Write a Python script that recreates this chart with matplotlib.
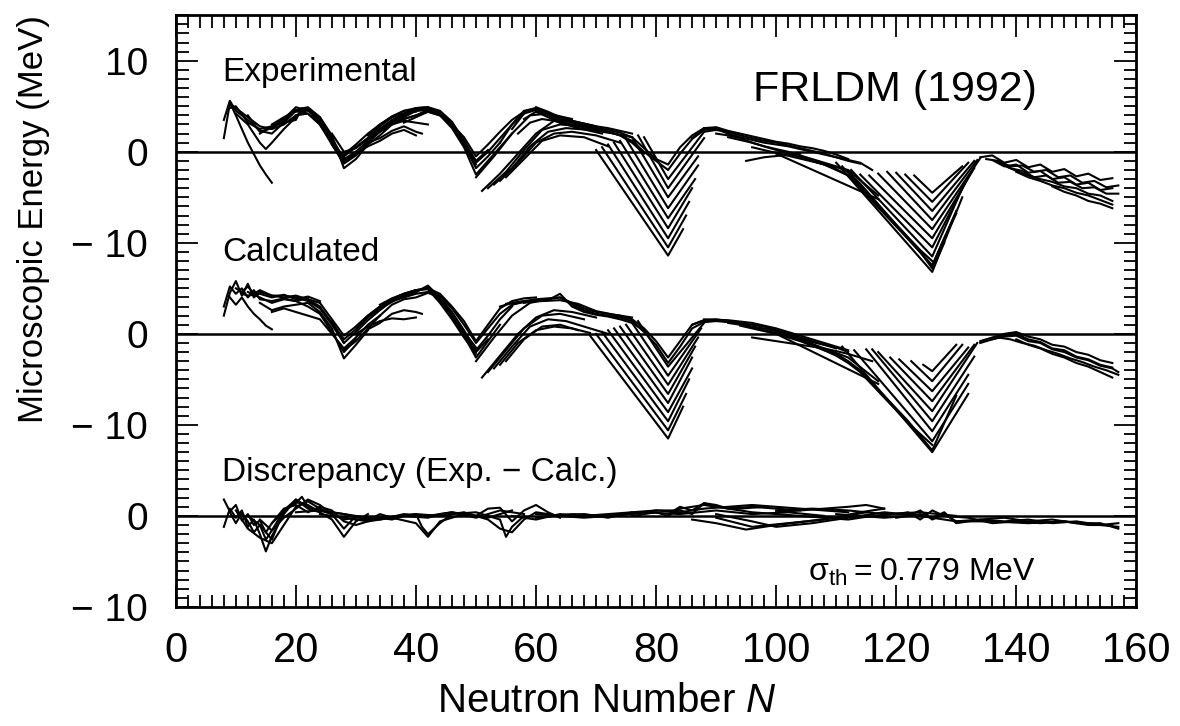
import numpy as np
import matplotlib
matplotlib.use("Agg")
import matplotlib.pyplot as plt
from matplotlib.ticker import MultipleLocator, FixedLocator

plt.rcParams['font.family'] = ['Liberation Sans', 'DejaVu Sans']
plt.rcParams['mathtext.fontset'] = 'custom'
plt.rcParams['mathtext.rm'] = 'Liberation Sans'
plt.rcParams['mathtext.it'] = 'Liberation Sans:italic'

# panel offsets (the three panels share one axis)
exp_off, calc_off, disc_off = 0, -20, -40

# ---------------- Experimental ----------------
exp_light_n = [[8, 9, 10, 12, 14, 16, 18, 20, 22],
               [8, 9, 10, 12, 14, 16, 18, 20, 22, 24],
               [9, 10, 12, 14, 15, 16],
               [9, 10, 12, 14, 16, 18, 20, 22],
               [10, 12, 14, 15, 16, 18, 20],
               [12, 14, 16, 18, 20, 22, 24, 26],
               [14, 16, 18, 20, 21, 22, 24, 26, 28],
               [16, 18, 20, 22, 24, 26, 28, 30]]
exp_light_e = [[1.5, 5.3, 4.8, 3.8, 2.8, 2.5, 3.0, 4.0, 4.6],
               [3.5, 5.6, 4.5, 3.5, 2.3, 2.0, 3.2, 4.5, 4.8, 3.5],
               [5.4, 4.0, 1.0, -1.5, -2.5, -3.4],
               [4.8, 5.0, 3.2, 2.5, 2.8, 3.6, 4.9, 4.5],
               [4.2, 3.0, 1.0, 0.3, 1.0, 2.5, 3.8],
               [4.0, 2.2, 2.6, 3.4, 4.6, 4.9, 3.8, 1.5],
               [2.0, 2.8, 3.2, 3.5, 4.8, 4.6, 3.2, 1.0, -0.6],
               [3.0, 3.8, 4.5, 4.2, 3.0, 1.2, -1.0, 0.0]]

exp_mid_n = [[20, 22, 24, 26, 28, 30, 32, 34, 36, 38, 40],
             [20, 22, 24, 26, 28, 30, 32, 34, 36, 38, 40, 42],
             [22, 24, 26, 28, 30, 32, 34, 36, 38, 40, 42, 44],
             [24, 26, 28, 30, 32, 34, 36, 38, 40, 42, 44, 46],
             [26, 28, 30, 32, 34, 36, 38, 40],
             [28, 30, 32, 34, 36, 38, 40, 42, 44, 46, 48, 50],
             [30, 32, 34, 36, 38, 40, 42, 44, 46, 48, 50, 52],
             [32, 34, 36, 38, 40, 42, 44, 46, 48, 50, 52, 54],
             [34, 36, 38, 40, 42, 44, 46, 48, 50, 52, 54, 56],
             [36, 38, 40, 42, 44, 46, 48, 50, 52, 54, 56, 58],
             [38, 40, 42, 44, 46, 48, 50, 52, 54, 56, 58, 60],
             [32, 34, 36, 38, 40, 41],
             [26, 28, 30, 32, 34, 36, 38, 40, 42]]
exp_mid_e = [[4.4, 4.6, 3.5, 1.5, -0.8, 0.0, 1.2, 2.5, 3.5, 4.2, 4.4],
             [4.0, 4.2, 3.0, 0.8, -1.3, -0.4, 1.0, 2.2, 3.2, 4.0, 4.6, 4.8],
             [4.8, 3.8, 1.8, -1.8, -0.8, 0.8, 1.8, 3.0, 3.8, 4.5, 4.7, 4.4],
             [3.0, 1.0, -0.5, 0.5, 1.5, 2.8, 3.8, 4.5, 4.8, 4.9, 4.2, 3.0],
             [0.8, -1.2, -0.2, 0.6, 1.2, 2.0, 2.4, 1.8],
             [-0.3, 0.8, 2.0, 3.0, 3.9, 4.5, 4.6, 4.7, 4.3, 2.8, 0.8, -1.4],
             [0.5, 1.5, 2.5, 3.4, 4.2, 4.8, 4.9, 4.5, 3.3, 1.2, -1.0, 0.2],
             [1.8, 3.0, 3.8, 4.2, 4.5, 4.6, 4.2, 3.0, 0.8, -1.8, -0.5, 1.0],
             [2.4, 3.2, 3.6, 4.0, 4.4, 4.0, 2.6, 0.5, -2.5, -1.0, 0.5, 2.0],
             [3.0, 3.6, 4.0, 4.6, 4.2, 3.2, 1.2, -1.2, 0.0, 1.5, 3.0, 4.2],
             [3.2, 3.8, 4.4, 4.0, 3.0, 1.6, -0.5, 0.8, 2.2, 3.5, 4.4, 4.8],
             [1.0, 1.5, 2.3, 2.8, 2.2, 2.0],
             [2.0, 0.0, 0.4, 1.4, 2.2, 3.0, 3.4, 3.2, 3.0]]

exp_rise_n = [[51, 54, 57, 60, 63, 66, 70],
              [52, 55, 58, 61, 64, 68, 72],
              [53, 56, 59, 62, 65, 69, 73, 76],
              [54, 57, 60, 63, 66, 70, 74],
              [55, 58, 61, 64, 68, 72],
              [50, 53, 56, 59, 62, 66]]
exp_rise_e = [[-4.3, -2.4, -0.2, 2.0, 3.4, 3.4, 2.8],
              [-4.0, -2.2, 0.2, 2.4, 3.0, 2.8, 2.4],
              [-3.6, -1.8, 0.6, 2.2, 2.6, 2.4, 2.0, 1.6],
              [-3.2, -1.2, 1.0, 2.0, 2.2, 1.8, 1.0],
              [-2.8, -0.8, 1.2, 1.8, 1.6, 0.6],
              [-2.8, -0.5, 2.0, 4.0, 4.2, 3.6]]

exp_band_n = [[54, 56, 58, 60, 62, 64, 66, 68, 70, 72, 74, 76, 78, 80, 82, 84, 86, 88, 90],
              [56, 58, 60, 62, 64, 66, 68, 70, 72, 74, 76, 78, 80, 82, 84, 86, 88, 90, 92],
              [58, 60, 62, 64, 66, 68, 70, 72, 74, 76, 78],
              [57, 59, 61, 63, 65, 67, 69, 71],
              [60, 62, 64, 66, 68, 70, 72, 74, 76]]
exp_band_e = [[1.0, 3.0, 4.5, 4.8, 4.2, 3.6, 3.2, 2.9, 2.6, 2.4, 2.1, 1.6, 0.4, -0.8, -1.4, 0.5, 1.8, 2.6, 2.4],
              [2.5, 4.2, 4.6, 4.0, 3.4, 3.0, 2.8, 2.5, 2.2, 1.8, 1.2, 0.0, -1.0, -2.0, -0.2, 1.4, 2.4, 2.6, 2.2],
              [3.6, 4.4, 3.8, 3.2, 2.9, 2.6, 2.4, 2.2, 1.8, 1.0, -0.2],
              [2.0, 3.2, 3.6, 3.4, 3.0, 2.6, 2.3, 2.0],
              [4.9, 4.4, 3.8, 3.4, 3.1, 2.8, 2.6, 2.3, 2.0]]

# N = 82 fan: start point, minimum at N = 82, end point
exp_f82_n0 = [78, 77, 76, 75, 74, 73, 72, 71, 70]
exp_f82_e0 = [1.6, 1.8, 1.6, 1.4, 1.2, 1.0, 0.8, 0.5, 0.2]
exp_f82_min = [-3.0, -4.0, -5.0, -6.2, -7.3, -8.4, -9.5, -10.5, -11.4]
exp_f82_n1 = [88, 88, 87, 87, 86.5, 86, 85.5, 85, 84.5]
exp_f82_e1 = [2.2, 1.5, -0.5, -1.5, -3.0, -4.0, -5.5, -7.0, -8.5]

exp_heavy_n = [[86, 88, 90, 92, 94, 96, 98, 100, 102, 104, 106, 108, 110, 112, 114, 116],
               [88, 90, 92, 94, 96, 98, 100, 102, 104, 106, 108, 110, 112, 114],
               [90, 92, 94, 96, 98, 100, 102, 104, 106, 108, 110, 112, 114, 116, 118, 120, 122, 124, 126, 128, 130],
               [92, 94, 96, 98, 100, 102, 104, 106, 108, 110, 112, 114, 116, 118, 120, 122, 124, 126],
               [88, 90, 92, 94, 96, 98, 100, 102, 104, 106, 108, 110, 112],
               [104, 108, 112, 116, 120, 124, 126, 128],
               [95, 98, 101, 104],
               [100, 117],
               [96, 112, 117]]
exp_heavy_e = [[1.5, 2.6, 2.5, 2.0, 1.6, 1.3, 1.0, 0.8, 0.6, 0.3, 0.0, -0.3, -0.6, -0.9, -1.2, -2.0],
               [2.2, 2.4, 2.2, 1.8, 1.5, 1.2, 1.0, 0.7, 0.4, 0.1, -0.2, -0.6, -1.0, -1.3],
               [2.0, 1.8, 1.5, 1.0, 0.6, 0.3, 0.0, -0.4, -0.8, -1.2, -1.6, -2.2, -3.5, -5.0, -6.5, -8.0, -9.5, -11.0, -12.5, -9.5, -6.8],
               [1.6, 1.3, 1.0, 0.6, 0.2, -0.2, -0.6, -1.0, -1.4, -1.9, -2.6, -3.8, -5.2, -6.6, -8.0, -9.4, -10.8, -12.0],
               [2.6, 2.7, 2.3, 2.0, 1.7, 1.4, 1.1, 0.9, 0.6, 0.4, 0.1, -0.3, -0.8],
               [-0.6, -1.4, -2.6, -5.4, -8.2, -11.0, -12.8, -10.0],
               [-1.0, -0.6, -0.4, -0.2],
               [-0.2, -5.2],
               [0.5, -2.0, -4.8]]

# N = 126 fan
exp_f126_n0 = [123, 121.5, 120, 118.5, 117, 115.5, 114, 112.5, 111, 110]
exp_f126_e0 = [-2.6, -2.5, -2.3, -2.2, -2.4, -2.6, -2.5, -2.0, -1.6, -1.2]
exp_f126_min = [-4.5, -5.5, -6.5, -7.5, -8.5, -9.5, -10.5, -11.5, -12.5, -13.2]
exp_f126_n1 = [131, 132, 133, 133.5, 134, 133, 132, 131, 130, 131]
exp_f126_e1 = [-1.6, -1.2, -1.0, -0.9, -0.7, -1.8, -2.8, -4.0, -6.5, -5.0]

exp_tail_n = [[134, 136, 138, 140, 142, 144, 146, 148, 150, 152, 154, 156],
              [135, 137, 139, 141, 143, 145, 147, 149, 151, 153, 155, 157],
              [136, 138, 140, 142, 144, 146, 148, 150, 152, 154, 156],
              [137, 139, 141, 143, 145, 147, 149, 151, 153, 155, 157],
              [138, 140, 142, 144, 146, 148, 150, 152, 154, 156],
              [140, 142, 144, 146, 148, 150, 152, 154, 156],
              [146, 148, 150, 152, 154, 156]]
exp_tail_e = [[-0.6, -0.4, -1.2, -0.9, -1.7, -1.4, -2.2, -1.9, -2.7, -2.4, -3.1, -2.9],
              [-0.8, -1.0, -1.6, -1.5, -2.2, -2.0, -2.8, -2.6, -3.4, -3.2, -3.9, -3.7],
              [-0.9, -1.6, -1.4, -2.3, -2.1, -3.0, -2.8, -3.6, -3.4, -4.2, -4.0],
              [-1.2, -1.8, -2.1, -2.8, -2.6, -3.4, -3.3, -4.0, -3.9, -4.6, -4.6],
              [-1.5, -2.1, -2.6, -3.0, -3.3, -3.8, -4.0, -4.6, -4.8, -5.4],
              [-2.2, -2.8, -3.2, -3.7, -4.0, -4.5, -4.8, -5.3, -5.8],
              [-3.8, -4.4, -4.8, -5.4, -5.7, -6.2]]

# ---------------- Calculated ----------------
calc_light_n = [[8, 9, 10, 11, 12, 13, 14, 16, 18, 20, 22, 24],
                [8, 9, 10, 11, 12, 13, 14, 16, 18, 20, 22],
                [9, 10, 11, 12, 13, 14, 15, 16],
                [10, 11, 12, 13, 14, 16, 18, 20, 22, 24, 26, 28],
                [12, 14, 16, 18, 20, 22, 24, 26, 28, 30],
                [14, 16, 18, 20, 22, 24, 26, 28, 30, 32],
                [16, 18, 20, 22, 24, 26, 28, 30, 32, 34],
                [11, 12, 14, 16, 18, 20, 22, 24]]
calc_light_e = [[2.0, 4.5, 5.8, 4.2, 5.5, 4.0, 4.6, 4.2, 4.0, 4.2, 3.8, 3.4],
                [3.0, 5.2, 4.4, 5.0, 4.0, 4.8, 3.8, 3.6, 3.9, 3.6, 3.9],
                [4.0, 3.2, 4.0, 3.0, 2.2, 1.6, 0.9, 0.5],
                [5.0, 4.6, 5.2, 4.4, 4.8, 4.2, 4.2, 4.0, 3.6, 2.8, 1.0, -1.0],
                [4.6, 4.0, 3.4, 3.8, 3.6, 3.0, 2.2, 0.2, -2.0, -0.6],
                [3.4, 2.6, 3.0, 3.2, 3.4, 2.4, 0.6, -2.7, -1.2, 0.4],
                [2.4, 2.8, 2.4, 2.0, 1.6, 0.0, -1.6, -0.4, 1.0, 2.0],
                [4.4, 4.2, 4.4, 4.0, 4.3, 3.8, 4.1, 3.6]]

calc_mid_n = [[22, 24, 26, 28, 30, 32, 34, 36, 38, 40, 42, 44, 46, 48, 50],
              [24, 26, 28, 30, 32, 34, 36, 38, 40, 42, 44, 46, 48, 50, 52],
              [26, 28, 30, 32, 34, 36, 38, 40, 42, 44, 46, 48, 50, 52, 54],
              [28, 30, 32, 34, 36, 38, 40, 42, 44, 46, 48, 50, 52, 54, 56],
              [30, 32, 34, 36, 38, 40],
              [32, 34, 36, 38, 40, 41],
              [30, 32, 34, 36, 38, 40, 42, 44, 46, 48, 50, 52, 54, 56, 58],
              [36, 38, 40, 42, 44, 46, 48, 50, 52, 54, 56, 58, 60],
              [34, 36, 38, 40, 42, 44, 46, 48, 50]]
calc_mid_e = [[3.8, 3.0, 1.2, -0.6, 0.5, 1.8, 2.8, 3.5, 4.2, 4.6, 5.2, 3.8, 2.0, 0.2, -1.5],
              [3.4, 1.6, -0.2, 0.8, 2.0, 3.0, 3.8, 4.4, 4.8, 5.0, 3.6, 1.8, 0.0, -2.0, -0.6],
              [1.4, -1.0, 0.2, 1.5, 2.6, 3.6, 4.2, 4.6, 5.3, 4.0, 2.0, -0.2, -2.6, -0.8, 1.0],
              [-1.8, -0.8, 0.6, 2.0, 3.2, 3.8, 4.0, 4.5, 4.0, 2.4, 0.4, -1.8, -0.2, 1.6, 3.0],
              [0.0, 0.8, 1.4, 1.7, 1.6, 1.8],
              [0.5, 1.2, 2.2, 2.6, 2.4, 2.2],
              [0.8, 2.0, 3.0, 3.6, 4.0, 4.4, 4.6, 4.2, 2.8, 1.0, -1.0, 0.6, 2.2, 3.2, 3.6],
              [3.8, 4.4, 4.8, 5.0, 4.4, 3.0, 1.4, -0.8, 1.0, 2.8, 3.6, 3.9, 4.0],
              [3.2, 3.9, 4.4, 4.8, 4.9, 3.4, 1.6, -0.4, -2.2]]

calc_rise_n = [[51, 54, 57, 60, 63, 66, 70],
               [52, 55, 58, 61, 64, 68],
               [53, 56, 59, 62, 65, 68, 72],
               [54, 57, 60, 63, 66, 69],
               [55, 58, 61, 64, 67],
               [50, 53, 56, 59, 62]]
calc_rise_e = [[-4.8, -2.4, 0.0, 1.8, 2.6, 2.4, 1.8],
               [-4.2, -1.8, 0.6, 2.0, 2.2, 1.6],
               [-3.8, -1.4, 0.8, 1.6, 1.4, 0.8, 0.0],
               [-3.4, -1.0, 0.4, 0.8, 0.6, 0.1],
               [-3.0, -0.6, 0.8, 1.0, 0.4],
               [-3.0, -0.4, 2.0, 3.4, 3.8]]

calc_band_n = [[54, 56, 58, 60, 62, 64, 66, 68, 70, 72, 74, 76, 78, 80, 82, 84, 86, 88, 90],
               [56, 58, 60, 62, 64, 66, 68, 70, 72, 74, 76, 78, 80, 82, 84, 86, 88, 90, 92],
               [58, 60, 62, 64, 66, 68, 70, 72, 74, 76, 78],
               [55, 58, 61, 64, 67, 70, 73, 76]]
calc_band_e = [[3.0, 3.4, 3.6, 3.8, 3.9, 4.0, 3.4, 2.8, 2.4, 2.2, 2.0, 1.6, 0.6, -0.8, -2.6, -0.8, 1.0, 1.5, 1.5],
               [3.2, 3.5, 3.7, 3.8, 4.0, 3.2, 2.6, 2.2, 2.0, 1.8, 1.4, 0.2, -1.2, -3.2, -1.4, 0.6, 1.3, 1.5, 1.3],
               [3.4, 3.6, 3.7, 4.4, 3.0, 2.4, 2.1, 1.9, 1.6, 1.2, 0.4],
               [3.3, 3.5, 3.6, 3.7, 3.3, 2.5, 2.1, 1.8]]

calc_f82_n0 = [77, 76, 75, 74, 73, 72, 71, 70, 69]
calc_f82_e0 = [1.4, 1.2, 1.0, 0.8, 0.6, 0.4, 0.2, 0.0, -0.2]
calc_f82_min = [-3.6, -4.6, -5.6, -6.6, -7.6, -8.6, -9.6, -10.6, -11.5]
calc_f82_n1 = [88, 87.5, 87, 86.5, 86, 86, 85.5, 85, 84.5]
calc_f82_e1 = [1.2, 0.6, -0.4, -1.4, -2.6, -3.8, -5.0, -6.6, -8.0]

calc_heavy_n = [[86, 88, 90, 92, 94, 96, 98, 100, 102, 104, 106, 108, 110, 112],
                [88, 90, 92, 94, 96, 98, 100, 102, 104, 106, 108, 110],
                [92, 94, 96, 98, 100, 102, 104, 106, 108, 110, 112, 114, 116, 118, 120, 122, 124, 126, 128, 130],
                [94, 96, 98, 100, 102, 104, 106, 108, 110, 112, 114, 116, 118, 120, 122, 124, 126],
                [88, 92, 96, 100, 104, 108, 112],
                [96, 100, 104, 108, 112, 116],
                [100, 117],
                [100, 112, 117]]
calc_heavy_e = [[1.0, 1.5, 1.6, 1.4, 1.2, 1.0, 0.8, 0.4, 0.0, -0.4, -0.8, -1.2, -1.5, -2.0],
                [1.3, 1.4, 1.3, 1.1, 0.8, 0.6, 0.3, -0.1, -0.5, -0.9, -1.2, -1.6],
                [1.2, 1.0, 0.7, 0.4, 0.1, -0.3, -0.7, -1.2, -1.8, -2.2, -3.0, -4.0, -5.4, -6.8, -8.2, -9.6, -11.2, -12.8, -9.8, -6.8],
                [0.9, 0.6, 0.3, 0.0, -0.4, -0.8, -1.3, -1.8, -2.4, -3.2, -4.2, -5.6, -7.0, -8.4, -9.8, -11.0, -12.2],
                [1.6, 1.5, 1.2, 0.6, -0.2, -1.0, -1.8],
                [-0.4, -0.8, -1.2, -1.6, -2.2, -3.0],
                [0.0, -5.5],
                [0.4, -2.6, -5.2]]

calc_f126_n0 = [124.5, 122.5, 120.5, 119, 117, 116, 115, 113, 111]
calc_f126_e0 = [-3.4, -3.0, -2.8, -2.6, -2.0, -1.7, -1.7, -1.8, -1.4]
calc_f126_min = [-4.1, -5.2, -6.3, -7.4, -8.5, -9.6, -10.7, -11.8, -13.0]
calc_f126_n1 = [130, 131, 132, 133, 133.5, 133, 132, 132, 132]
calc_f126_e1 = [-1.2, -1.2, -1.5, -1.2, -1.0, -2.5, -4.5, -5.5, -6.6]

calc_tail_n = [[134, 136, 138, 140, 142, 144, 146, 148, 150, 152, 154, 156],
               [134, 136, 138, 140, 142, 144, 146, 148, 150, 152, 154, 156],
               [136, 138, 140, 142, 144, 146, 148, 150, 152, 154, 156, 157],
               [137, 139, 141, 143, 145, 147, 149, 151, 153, 155, 157],
               [140, 142, 144, 146, 148, 150, 152, 154, 156]]
calc_tail_e = [[-0.8, -0.4, 0.0, 0.2, -0.3, -0.6, -1.2, -1.4, -2.0, -2.3, -2.9, -3.2],
               [-1.0, -0.6, -0.2, 0.0, -0.6, -0.9, -1.6, -1.8, -2.5, -2.8, -3.4, -3.7],
               [-0.6, -0.3, -0.2, -0.8, -1.0, -1.7, -2.0, -2.6, -2.9, -3.5, -3.8, -4.2],
               [-0.4, -0.6, -1.0, -1.3, -1.8, -2.2, -2.7, -3.1, -3.6, -4.0, -4.5],
               [-0.6, -1.2, -1.6, -2.2, -2.6, -3.2, -3.6, -4.2, -4.8]]

# ---------------- Discrepancy ----------------
disc_n = [[8, 9, 10, 11, 12, 13, 14, 15, 16, 18, 20, 22, 24],
          [8, 9, 10, 11, 12, 13, 14, 15, 16, 17, 18, 20, 22],
          [9, 10, 11, 12, 13, 14, 15, 16, 18, 20, 21, 22, 24, 26],
          [10, 12, 14, 16, 18, 20, 22, 24, 26, 28, 30],
          [12, 14, 16, 18, 20, 22, 24, 26, 28, 30, 32],
          [14, 16, 18, 20, 22, 24, 26, 28, 30, 32, 34, 36],
          [16, 18, 20, 22, 24, 26, 28, 30, 32, 34, 36, 38, 40],
          [20, 24, 28, 32, 36, 40, 42, 44, 48, 52, 56],
          [24, 28, 32, 36, 40, 41, 42, 44, 46, 50, 54, 55, 56, 58],
          [30, 34, 38, 42, 44, 46, 50, 52, 54, 56, 58, 60, 62, 64],
          [40, 44, 48, 52, 54, 56, 58, 60, 64, 68, 72, 76],
          [56, 60, 64, 68, 72, 76, 80, 84, 86, 88, 90, 94, 98],
          [60, 64, 68, 72, 76, 80, 84, 88, 92, 96, 100, 104, 108, 112],
          [76, 80, 82, 84, 88, 92, 96, 100, 104, 108, 112, 116],
          [86, 90, 95, 100, 105, 110, 115],
          [90, 96, 102, 108, 114, 118],
          [100, 104, 108, 112, 115, 118],
          [110, 114, 118, 122, 124, 126, 128, 130, 134, 138, 142, 146, 150, 154, 157],
          [116, 120, 122, 124, 126, 128, 132, 136, 140, 144, 148, 152, 156],
          [120, 124, 126, 128, 130, 134, 138, 142, 146, 150, 154, 157],
          [100, 106, 112, 118, 124, 130],
          [82, 84, 86, 88, 90, 92, 96, 100, 104],
          [60, 66, 72, 78, 84, 90, 96, 102, 108],
          [90, 96, 100, 106, 112, 118, 124],
          [124, 130, 136, 142, 148, 154, 157],
          [26, 30, 34, 38, 42, 46, 50, 54, 58]]
disc_e = [[1.8, 0.5, 1.2, -0.5, 0.2, -1.0, -0.5, -1.8, -0.8, 0.5, 1.5, 1.2, 0.4],
          [-1.2, 0.8, -0.2, 0.6, -1.2, -0.4, -2.0, -3.9, -2.2, -1.0, 0.2, 1.8, 1.0],
          [0.4, -0.8, 0.3, -0.6, -1.8, -1.0, -2.6, -1.6, 0.6, 1.4, 2.1, 1.0, 0.6, 0.2],
          [0.6, -1.4, -2.4, -3.0, -1.0, 1.0, 1.6, 0.8, 0.2, -0.4, -0.2],
          [0.0, -1.0, -2.6, 0.6, 1.8, 0.8, 0.4, -0.4, -2.3, -0.6, 0.2],
          [-0.4, -1.6, -0.2, 0.8, 1.8, 1.2, 0.2, -1.4, 0.0, -0.5, 0.2, -0.2],
          [-0.8, 0.8, 1.2, 0.4, 1.0, 0.6, -0.6, -1.0, -0.6, -0.2, -0.4, 0.0, 0.2],
          [0.4, 0.6, 0.2, -0.4, -0.2, -0.8, -2.3, -0.6, 0.2, -0.2, 0.6],
          [0.2, -0.2, -0.6, -0.2, 0.2, -1.2, -2.0, -0.8, 0.2, 0.4, -0.4, -2.3, -1.2, 0.0],
          [-0.4, -0.2, 0.0, -0.2, 0.2, 0.4, 0.0, 0.8, 0.9, -0.6, 0.6, 1.2, 0.4, -0.2],
          [0.2, 0.0, 0.4, -0.4, -1.4, -1.8, -0.4, 0.4, 0.0, 0.2, -0.2, 0.4],
          [0.0, -0.4, 0.2, 0.0, 0.2, 0.4, 0.6, 0.6, 0.2, 1.4, 1.0, 0.8, 1.0],
          [0.2, 0.0, -0.2, 0.0, 0.2, 0.6, 0.4, 0.8, 1.0, 1.2, 1.0, 0.8, 0.6, 0.4],
          [0.0, 0.4, 0.0, 0.8, 1.2, 0.8, 0.4, 0.2, 0.0, -0.2, -0.4, 0.0],
          [-0.4, -0.8, -1.5, -1.0, -0.6, -0.2, 0.4],
          [-0.2, -1.2, -0.8, -0.4, 0.4, 0.8],
          [0.4, 0.6, 0.8, 1.0, 1.2, 0.8],
          [0.2, 0.0, -0.2, 0.0, 0.6, -0.4, 0.2, -0.6, -0.4, -0.6, -0.4, -0.8, -0.6, -1.0, -1.2],
          [0.0, 0.2, 0.4, -0.4, 0.6, 0.0, -0.2, -0.8, -0.6, -0.8, -0.6, -1.0, -1.0],
          [-0.2, 0.2, -0.2, 0.4, -0.8, -0.4, -0.2, -0.6, -0.4, -0.8, -0.8, -1.4],
          [0.6, 0.8, 0.6, 0.2, 0.4, 0.0],
          [0.2, 1.0, 0.6, 1.4, 1.2, 0.8, 1.0, 0.8, 0.6],
          [-0.2, 0.2, 0.0, 0.4, 0.2, 0.6, 0.2, 0.4, 0.0],
          [0.2, -0.6, -1.2, -0.8, -0.2, 0.4, 0.0],
          [0.0, -0.6, -0.6, -0.8, -0.6, -1.0, -0.8],
          [0.4, 0.0, -0.4, 0.2, 0.0, 0.4, -0.2, 0.6, 0.2]]

y_ticks = [10, 0, -10, -20, -30, -40, -50]
y_labels = ['10', '0', '\u2212 10', '0', '\u2212 10', '0', '\u2212 10']

fig = plt.figure(figsize=(11.8, 7.26), dpi=100)
ax = fig.add_axes([0.149, 0.164, 0.814, 0.815])
LW = 1.5


def chains(ns, es, off):
    for n, e in zip(ns, es):
        ax.plot(n, np.array(e) + off, color='k', lw=LW)


def fan(magic, n0, e0, mn, n1, e1, off):
    for i in range(len(mn)):
        ax.plot([n0[i], magic, n1[i]], np.array([e0[i], mn[i], e1[i]]) + off,
                color='k', lw=LW)


for off in (exp_off, calc_off, disc_off):
    ax.axhline(off, color='k', lw=1.8)

chains(exp_light_n, exp_light_e, exp_off)
chains(exp_mid_n, exp_mid_e, exp_off)
chains(exp_rise_n, exp_rise_e, exp_off)
chains(exp_band_n, exp_band_e, exp_off)
fan(82, exp_f82_n0, exp_f82_e0, exp_f82_min, exp_f82_n1, exp_f82_e1, exp_off)
chains(exp_heavy_n, exp_heavy_e, exp_off)
fan(126, exp_f126_n0, exp_f126_e0, exp_f126_min, exp_f126_n1, exp_f126_e1, exp_off)
chains(exp_tail_n, exp_tail_e, exp_off)

chains(calc_light_n, calc_light_e, calc_off)
chains(calc_mid_n, calc_mid_e, calc_off)
chains(calc_rise_n, calc_rise_e, calc_off)
chains(calc_band_n, calc_band_e, calc_off)
fan(82, calc_f82_n0, calc_f82_e0, calc_f82_min, calc_f82_n1, calc_f82_e1, calc_off)
chains(calc_heavy_n, calc_heavy_e, calc_off)
fan(126, calc_f126_n0, calc_f126_e0, calc_f126_min, calc_f126_n1, calc_f126_e1, calc_off)
chains(calc_tail_n, calc_tail_e, calc_off)

chains(disc_n, disc_e, disc_off)

ax.set_xlim(0, 160)
ax.set_ylim(-50, 15)
ax.xaxis.set_major_locator(MultipleLocator(20))
ax.xaxis.set_minor_locator(MultipleLocator(2))
ax.yaxis.set_major_locator(FixedLocator(y_ticks))
ax.set_yticklabels(y_labels)
ax.yaxis.set_minor_locator(MultipleLocator(1))
ax.tick_params(which='both', direction='in', top=True, right=True, width=1.3)
ax.tick_params(which='major', length=16)
ax.tick_params(which='minor', length=9)
ax.tick_params(axis='x', labelsize=30, pad=17)
ax.tick_params(axis='y', labelsize=28, pad=20)
for s in ax.spines.values():
    s.set_linewidth(2)

fig.text(0.514, 0.019, 'Neutron Number $N$', fontsize=29, ha='center', va='baseline')
fig.text(0.028, 0.698, 'Microscopic Energy (MeV)', fontsize=25, rotation=90,
         ha='center', va='center')

ax.text(7.7, 7.8, 'Experimental', fontsize=24, ha='left', va='baseline')
ax.text(7.7, -12.0, 'Calculated', fontsize=24, ha='left', va='baseline')
ax.text(7.7, -36.2, 'Discrepancy (Exp. \u2212 Calc.)', fontsize=24, ha='left', va='baseline')
ax.text(96.2, 5.6, 'FRLDM (1992)', fontsize=31, ha='left', va='baseline')
ax.text(105.3, -47.1, r'$\mathrm{σ_{th}}$' + '\u2009=\u20090.779 MeV', fontsize=23,
        ha='left', va='baseline')

fig.savefig('out.png', dpi=100)
